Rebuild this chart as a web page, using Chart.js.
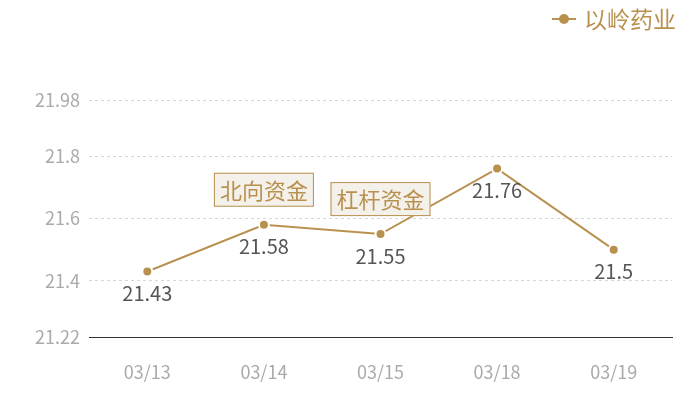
<!DOCTYPE html>
<html lang="zh">
<head>
  <meta charset="UTF-8">
  <title>以岭药业</title>
  <style>
    body { margin: 0; background: #fff; }
    #wrap { width: 700px; height: 400px; }
  </style>
  <script src="https://cdn.jsdelivr.net/npm/chart.js"></script>
</head>
<body>
  <div id="wrap"><canvas id="chart" width="700" height="400"></canvas></div>
  <script>
    // data
    const dates = ['03/13', '03/14', '03/15', '03/18', '03/19'];
    const prices = [21.43, 21.58, 21.55, 21.76, 21.5];
    const yTicks = [21.22, 21.4, 21.6, 21.8, 21.98];
    const noteIndex = [1, 2];
    const noteText = ['北向资金', '杠杆资金'];

    const gold = '#b8914f';
    const font = '"Noto Sans CJK SC", "Noto Sans", sans-serif';

    // value labels under points, note boxes above, and the legend top right
    const extras = {
      id: 'extras',
      afterDatasetsDraw(chart) {
        const ctx = chart.ctx;
        const meta = chart.getDatasetMeta(0);
        ctx.save();

        ctx.font = '20px ' + font;
        ctx.fillStyle = '#555';
        ctx.textAlign = 'center';
        ctx.textBaseline = 'middle';
        meta.data.forEach((pt, i) => {
          ctx.fillText(String(prices[i]), pt.x, pt.y + 22);
        });

        ctx.font = '22px ' + font;
        noteIndex.forEach((idx, k) => {
          const pt = meta.data[idx];
          const w = ctx.measureText(noteText[k]).width + 12;
          const h = 34;
          const left = pt.x - w / 2;
          const top = pt.y - 18 - h;
          ctx.fillStyle = '#f4f0ea';
          ctx.fillRect(left, top, w, h);
          ctx.strokeStyle = gold;
          ctx.lineWidth = 1;
          ctx.strokeRect(left + 0.5, top + 0.5, w - 1, h - 1);
          ctx.fillStyle = gold;
          ctx.fillText(noteText[k], pt.x, top + h / 2 + 1);
        });

        // legend
        const label = chart.data.datasets[0].label;
        ctx.font = '23px ' + font;
        const tw = ctx.measureText(label).width;
        const tx = 676 - tw;
        const ly = 19;
        ctx.strokeStyle = gold;
        ctx.lineWidth = 2;
        ctx.beginPath();
        ctx.moveTo(tx - 32, ly);
        ctx.lineTo(tx - 8, ly);
        ctx.stroke();
        ctx.fillStyle = gold;
        ctx.beginPath();
        ctx.arc(tx - 20, ly, 5, 0, Math.PI * 2);
        ctx.fill();
        ctx.textAlign = 'left';
        ctx.fillText(label, tx, ly);

        ctx.restore();
      }
    };

    new Chart(document.getElementById('chart'), {
      type: 'line',
      data: {
        labels: dates,
        datasets: [{
          label: '以岭药业',
          data: prices,
          borderColor: gold,
          backgroundColor: gold,
          borderWidth: 2,
          pointRadius: 5,
          pointHoverRadius: 5,
          pointBorderWidth: 2,
          pointBorderColor: '#fff',
          pointBackgroundColor: gold,
          tension: 0,
          fill: false
        }]
      },
      options: {
        responsive: false,
        animation: false,
        layout: { padding: { top: 100, right: 28, left: 0, bottom: 0 } },
        plugins: {
          legend: { display: false },
          tooltip: { enabled: false }
        },
        scales: {
          x: {
            offset: true,
            grid: { display: false, drawTicks: false },
            border: { display: true, color: '#333', width: 1 },
            ticks: { color: '#aaa', font: { family: font, size: 18 }, padding: 24 },
            afterFit(scale) { scale.height = 63; }
          },
          y: {
            min: 21.22,
            max: 21.98,
            afterBuildTicks(scale) {
              scale.ticks = yTicks.map(v => ({ value: v }));
            },
            grid: {
              drawTicks: false,
              color: c => (c.tick && c.tick.value === yTicks[0]) ? 'rgba(0,0,0,0)' : '#d6d6d6'
            },
            border: { display: false, dash: [3, 3] },
            ticks: {
              color: '#aaa',
              font: { family: font, size: 18 },
              padding: 9,
              callback: v => String(v)
            },
            afterFit(scale) { scale.width = 89; }
          }
        }
      },
      plugins: [extras]
    });
  </script>
</body>
</html>
